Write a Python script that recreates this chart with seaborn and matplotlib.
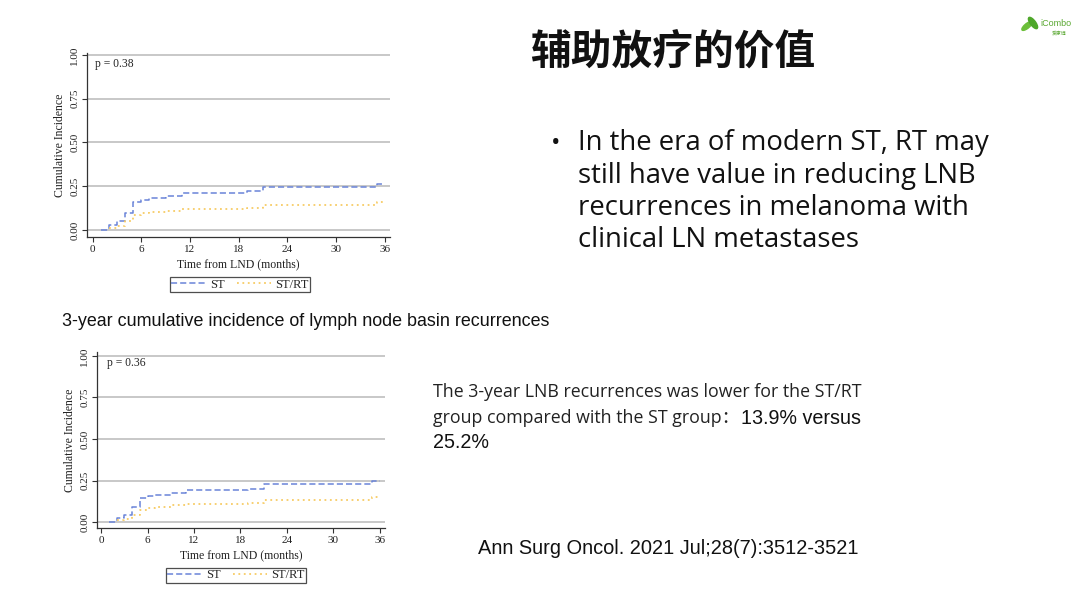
import numpy as np
import pandas as pd
import matplotlib
matplotlib.use("Agg")
import matplotlib.pyplot as plt
import seaborn as sns
from matplotlib.patches import Ellipse

# ---------------- data ----------------
groups = ["ST", "ST/RT"]
xticks = [0, 6, 12, 18, 24, 30, 36]
yticks = [0.0, 0.25, 0.50, 0.75, 1.00]
ytick_labels = ["0.00", "0.25", "0.50", "0.75", "1.00"]

# chart 1 (p = 0.38)
st1_t = [1, 2, 3, 4, 5, 6, 7, 9, 11, 19, 21, 35, 36]
st1_y = [0.0, 0.027, 0.05, 0.097, 0.158, 0.17, 0.183, 0.197, 0.21, 0.221, 0.248, 0.265, 0.265]
strt1_t = [2, 3, 4, 5, 6, 7, 9, 11, 19, 21, 35, 36]
strt1_y = [0.01, 0.02, 0.05, 0.085, 0.095, 0.103, 0.11, 0.12, 0.125, 0.145, 0.16, 0.16]
p1 = "p = 0.38"

# chart 2 (p = 0.36)
st2_t = [1, 2, 3, 4, 5, 6, 7, 9, 11, 19, 21, 35, 36]
st2_y = [0.0, 0.025, 0.045, 0.09, 0.145, 0.155, 0.165, 0.175, 0.19, 0.2, 0.228, 0.245, 0.245]
strt2_t = [2, 3, 4, 5, 6, 7, 9, 11, 19, 21, 35, 36]
strt2_y = [0.01, 0.02, 0.045, 0.075, 0.085, 0.09, 0.1, 0.11, 0.115, 0.135, 0.15, 0.15]
p2 = "p = 0.36"

title = "辅助放疗的价值"
bullet_lines = ["In the era of modern ST, RT may",
                "still have value in reducing LNB",
                "recurrences in melanoma with",
                "clinical LN metastases"]
caption = "3-year cumulative incidence of lymph node basin recurrences"
citation = "Ann Surg Oncol. 2021 Jul;28(7):3512-3521"

# ---------------- style ----------------
sns.set_theme(style="white")
plt.rcParams["font.family"] = ["Liberation Serif", "DejaVu Serif"]

BLUE = "#6a84d8"
YELLOW = "#f7cc66"
GRID = "#c4c4c4"

W, H = 1080, 608
fig = plt.figure(figsize=(W / 100, H / 100), dpi=100)
fig.patch.set_facecolor("white")


def frac_axes(x0, y0, x1, y1):
    return fig.add_axes([x0 / W, 1 - y1 / H, (x1 - x0) / W, (y1 - y0) / H])


def draw_chart(ax, st_t, st_y, rt_t, rt_y, ptxt, xlim, ylim, pxy, legend_center):
    df = pd.concat([
        pd.DataFrame({"t": st_t, "ci": st_y, "grp": groups[0]}),
        pd.DataFrame({"t": rt_t, "ci": rt_y, "grp": groups[1]}),
    ])
    for y in yticks:
        ax.axhline(y, color=GRID, lw=1.3, zorder=0)
    sns.lineplot(data=df[df.grp == groups[0]], x="t", y="ci", ax=ax, color=BLUE,
                 linestyle=(0, (4, 2)), lw=1.1, drawstyle="steps-post", label=groups[0],
                 estimator=None)
    sns.lineplot(data=df[df.grp == groups[1]], x="t", y="ci", ax=ax, color=YELLOW,
                 linestyle=(0, (1, 2)), lw=1.3, drawstyle="steps-post", label=groups[1],
                 estimator=None)
    ax.set_xlim(*xlim)
    ax.set_ylim(*ylim)
    ax.set_xticks(xticks)
    ax.set_yticks(yticks)
    ax.set_yticklabels(ytick_labels, rotation=90, va="center")
    ax.tick_params(axis="both", labelsize=8, length=3.5, width=0.8, color="#333333",
                   labelcolor="#222222", pad=2, left=True, bottom=True)
    for s in ["top", "right"]:
        ax.spines[s].set_visible(False)
    for s in ["left", "bottom"]:
        ax.spines[s].set_color("#333333")
        ax.spines[s].set_linewidth(0.9)
    ax.set_xlabel("Time from LND (months)", fontsize=8.5, color="#222222", labelpad=3)
    ax.set_ylabel("Cumulative Incidence", fontsize=8.5, color="#222222", labelpad=3)
    ax.text(pxy[0], pxy[1], ptxt, fontsize=8.4, color="#222222", va="center", ha="left")
    ax.set_facecolor("white")
    leg = ax.legend(loc="center", bbox_to_anchor=(legend_center[0] / W, 1 - legend_center[1] / H),
                    bbox_transform=fig.transFigure, ncol=2, frameon=True, fancybox=False,
                    edgecolor="#222222", fontsize=9, handlelength=2.7, handletextpad=0.4,
                    columnspacing=1.0, borderpad=0.1, borderaxespad=0)
    leg.get_frame().set_linewidth(0.9)


ax1 = frac_axes(87, 53, 390, 237)
draw_chart(ax1, st1_t, st1_y, strt1_t, strt1_y, p1, (-0.7, 36.65), (-0.04, 1.011),
           (0.3, 0.95), (240, 284.5))

ax2 = frac_axes(97, 352, 385, 528)
draw_chart(ax2, st2_t, st2_y, strt2_t, strt2_y, p2, (-0.52, 36.65), (-0.036, 1.024),
           (0.8, 0.96), (236, 575.5))

# ---------------- slide text ----------------
fig.text(530 / W, 1 - 52 / H, title, fontsize=29.3, fontweight="bold",
         family=["Noto Sans CJK SC"], color="#111111", va="center", ha="left")

fig.text(551 / W, 1 - 143 / H, "•", fontsize=18, family=["Open Sans", "DejaVu Sans"],
         color="#111111", va="center", ha="left")
for i, (line, yy) in enumerate(zip(bullet_lines, [143, 176, 208, 240])):
    fig.text(578 / W, 1 - yy / H, line, fontsize=19.8, family=["Open Sans", "DejaVu Sans"],
             color="#111111", va="center", ha="left")

fig.text(62 / W, 1 - 322 / H, caption, fontsize=12.9, family=["Liberation Sans"],
         color="#111111", va="center", ha="left")

seg = ["Open Sans", "Noto Sans CJK SC", "DejaVu Sans"]
fig.text(433 / W, 1 - 392 / H, "The 3-year LNB recurrences was lower for the ST/RT",
         fontsize=12.8, family=seg, color="#222222", va="center", ha="left")
fig.text(433 / W, 1 - 418 / H, "group compared with the ST group：",
         fontsize=12.8, family=seg, color="#222222", va="center", ha="left")
fig.text(741 / W, 1 - 418 / H, "13.9% versus",
         fontsize=14.2, family=["Liberation Sans"], color="#111111", va="center", ha="left")
fig.text(433 / W, 1 - 442 / H, "25.2%",
         fontsize=14.2, family=["Liberation Sans"], color="#111111", va="center", ha="left")

fig.text(478 / W, 1 - 549 / H, citation, fontsize=14.4, family=["Liberation Sans"],
         color="#111111", va="center", ha="left")

# logo
fig.patches.append(Ellipse((1027 / W, 1 - 26 / H), 6 / W, 10 / H, angle=-30,
                           transform=fig.transFigure, color="#6cbf3a", zorder=5))
fig.patches.append(Ellipse((1033 / W, 1 - 23 / H), 6 / W, 12 / H, angle=20,
                           transform=fig.transFigure, color="#4ea72a", zorder=5))
fig.text(1040 / W, 1 - 24 / H, "iCombo", fontsize=6.5, family=["Liberation Sans"],
         color="#5aa832", va="center", ha="left")
fig.text(1052 / W, 1 - 33 / H, "爱康博", fontsize=3.5, family=["Noto Sans CJK SC"],
         color="#5aa832", va="center", ha="left")

fig.savefig("out.png", dpi=100, facecolor="white")
